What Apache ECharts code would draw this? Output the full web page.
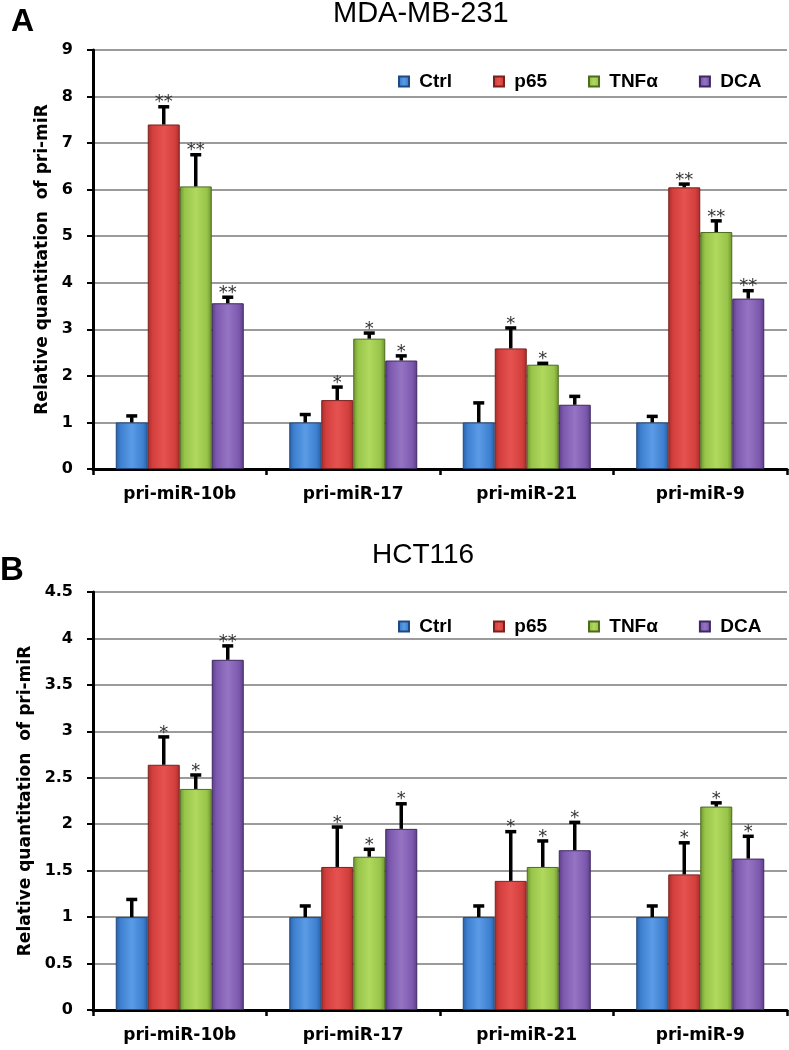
<!DOCTYPE html>
<html>
<head>
    <meta charset="utf-8">
    <title>pri-miR</title>
    <script src="https://cdn.jsdelivr.net/npm/echarts@6/dist/echarts.min.js"></script>
    <style type="text/css">
        body { margin: 0; background: #fff; }
        #main { width: 789px; height: 1050px; }
    </style>
</head>
<body>
    <div id="main"></div>

    <script type="text/javascript">

        var categories = ['pri-miR-10b', 'pri-miR-17', 'pri-miR-21', 'pri-miR-9'];
        var groups = ['Ctrl', 'p65', 'TNFα', 'DCA'];

        // MDA-MB-231
        var mdaCtrl = [1.0, 1.0, 1.0, 1.0];
        var mdaP65 = [7.40, 1.48, 2.59, 6.05];
        var mdaTnf = [6.07, 2.80, 2.24, 5.09];
        var mdaDca = [3.56, 2.33, 1.38, 3.66];
        var mdaCtrlErr = [0.14, 0.17, 0.42, 0.13];
        var mdaP65Err = [0.38, 0.28, 0.44, 0.07];
        var mdaTnfErr = [0.68, 0.12, 0.03, 0.24];
        var mdaDcaErr = [0.13, 0.10, 0.18, 0.17];
        var mdaP65Sig = ['**', '*', '*', '**'];
        var mdaTnfSig = ['**', '*', '*', '**'];
        var mdaDcaSig = ['**', '*', '', '**'];

        // HCT116
        var hctCtrl = [1.0, 1.0, 1.0, 1.0];
        var hctP65 = [2.64, 1.54, 1.39, 1.46];
        var hctTnf = [2.38, 1.65, 1.54, 2.19];
        var hctDca = [3.77, 1.95, 1.72, 1.63];
        var hctCtrlErr = [0.19, 0.12, 0.12, 0.12];
        var hctP65Err = [0.30, 0.43, 0.53, 0.34];
        var hctTnfErr = [0.15, 0.08, 0.28, 0.04];
        var hctDcaErr = [0.15, 0.27, 0.30, 0.24];
        var hctP65Sig = ['*', '*', '*', '*'];
        var hctTnfSig = ['*', '*', '*', '*'];
        var hctDcaSig = ['**', '*', '*', '*'];

        var ctrlSig = ['', '', '', ''];

        var BAR_W = 32;

        var palette = [
            { light: '#5b9be6', mid: '#3e80d0', dark: '#2b5fa5', border: '#1f4a80' },
            { light: '#e6524f', mid: '#d33f3c', dark: '#a72e2c', border: '#7a201f' },
            { light: '#b0d95e', mid: '#97c449', dark: '#6e9430', border: '#4d6b1f' },
            { light: '#9674c4', mid: '#7c59ae', dark: '#5b3e87', border: '#3e295f' }
        ];

        function barColor(p) {
            return new echarts.graphic.LinearGradient(0, 0, 1, 0, [
                { offset: 0, color: p.dark },
                { offset: 0.15, color: p.mid },
                { offset: 0.5, color: p.light },
                { offset: 0.85, color: p.mid },
                { offset: 1, color: p.dark }
            ]);
        }

        function bars(name, values, slot, k) {
            return {
                name: name,
                type: 'bar',
                xAxisIndex: k,
                yAxisIndex: k,
                data: values,
                barWidth: BAR_W,
                barGap: '0%',
                itemStyle: {
                    color: barColor(palette[slot]),
                    borderColor: palette[slot].border,
                    borderWidth: 1
                }
            };
        }

        function errorBars(means, errs, sigs, slot, k) {
            return {
                type: 'custom',
                xAxisIndex: k,
                yAxisIndex: k,
                z: 5,
                data: means.map(function (m, i) { return [i, m, errs[i]]; }),
                renderItem: function (params, api) {
                    var base = api.coord([api.value(0), api.value(1)]);
                    var top = api.coord([api.value(0), api.value(1) + api.value(2)]);
                    var x = base[0] + (slot - 1.5) * BAR_W;
                    var children = [
                        { type: 'line', shape: { x1: x, y1: base[1], x2: x, y2: top[1] },
                          style: { stroke: '#000', lineWidth: 3.5 } },
                        { type: 'line', shape: { x1: x - 5.5, y1: top[1], x2: x + 5.5, y2: top[1] },
                          style: { stroke: '#000', lineWidth: 3.5 } }
                    ];
                    var s = sigs[params.dataIndex];
                    if (s) {
                        children.push({
                            type: 'text', x: x, y: top[1] + 5,
                            style: { text: s, fill: '#333', font: '18px "DejaVu Sans"',
                                     align: 'center', verticalAlign: 'bottom' }
                        });
                    }
                    return { type: 'group', children: children };
                }
            };
        }

        function xAxisFor(k) {
            return {
                type: 'category',
                gridIndex: k,
                data: categories,
                axisLine: { show: true, lineStyle: { color: '#000', width: 3 } },
                axisTick: { show: true, length: 6, lineStyle: { color: '#000', width: 2.5 } },
                axisLabel: { fontFamily: 'DejaVu Sans', fontWeight: 'bold', fontSize: 17, color: '#000', margin: 17 },
                splitLine: { show: false }
            };
        }

        function yAxisFor(k, max, interval, gap) {
            return {
                type: 'value',
                gridIndex: k,
                min: 0,
                max: max,
                interval: interval,
                name: 'Relative quantitation  of pri-miR',
                nameLocation: 'middle',
                nameGap: gap,
                nameTextStyle: { fontFamily: 'DejaVu Sans', fontWeight: 'bold', fontSize: 17, color: '#000' },
                axisLine: { show: true, lineStyle: { color: '#000', width: 3 } },
                axisTick: { show: true, length: 6, lineStyle: { color: '#000', width: 2 } },
                axisLabel: { fontFamily: 'DejaVu Sans', fontWeight: 'bold', fontSize: 16, color: '#000', margin: 20 },
                splitLine: { show: true, lineStyle: { color: '#7a7a7a', width: 1.5 } }
            };
        }

        function legendFor(top) {
            return {
                data: groups,
                left: 393,
                top: top,
                icon: 'rect',
                itemWidth: 10,
                itemHeight: 10,
                itemGap: 41,
                formatter: ' {name}',
                selectedMode: false,
                textStyle: { fontFamily: 'Liberation Sans', fontWeight: 'bold', fontSize: 19, color: '#000' }
            };
        }

        var chart = echarts.init(document.getElementById('main'));

        var option = {
            animation: false,
            backgroundColor: '#fff',
            title: [
                { text: 'A', left: 11, top: 6, padding: 0,
                  textStyle: { fontFamily: 'Liberation Sans', fontWeight: 'bold', fontSize: 32, color: '#000' } },
                { text: 'MDA-MB-231', left: 333, top: -1, padding: 0,
                  textStyle: { fontFamily: 'Liberation Sans', fontWeight: 'normal', fontSize: 29, color: '#000' } },
                { text: 'B', left: 0, top: 554, padding: 0,
                  textStyle: { fontFamily: 'Liberation Sans', fontWeight: 'bold', fontSize: 33, color: '#000' } },
                { text: 'HCT116', left: 372, top: 541, padding: 0,
                  textStyle: { fontFamily: 'Liberation Sans', fontWeight: 'normal', fontSize: 28, color: '#000' } }
            ],
            legend: [legendFor(67), legendFor(612)],
            grid: [
                { left: 93, right: 2, top: 50, height: 419 },
                { left: 93, right: 2, top: 592, height: 418 }
            ],
            xAxis: [xAxisFor(0), xAxisFor(1)],
            yAxis: [yAxisFor(0, 9, 1, 38), yAxisFor(1, 4.5, 0.5, 58)],
            series: [
                bars('Ctrl', mdaCtrl, 0, 0),
                bars('p65', mdaP65, 1, 0),
                bars('TNFα', mdaTnf, 2, 0),
                bars('DCA', mdaDca, 3, 0),
                errorBars(mdaCtrl, mdaCtrlErr, ctrlSig, 0, 0),
                errorBars(mdaP65, mdaP65Err, mdaP65Sig, 1, 0),
                errorBars(mdaTnf, mdaTnfErr, mdaTnfSig, 2, 0),
                errorBars(mdaDca, mdaDcaErr, mdaDcaSig, 3, 0),

                bars('Ctrl', hctCtrl, 0, 1),
                bars('p65', hctP65, 1, 1),
                bars('TNFα', hctTnf, 2, 1),
                bars('DCA', hctDca, 3, 1),
                errorBars(hctCtrl, hctCtrlErr, ctrlSig, 0, 1),
                errorBars(hctP65, hctP65Err, hctP65Sig, 1, 1),
                errorBars(hctTnf, hctTnfErr, hctTnfSig, 2, 1),
                errorBars(hctDca, hctDcaErr, hctDcaSig, 3, 1)
            ]
        };

        chart.setOption(option);

    </script>
</body>
</html>
